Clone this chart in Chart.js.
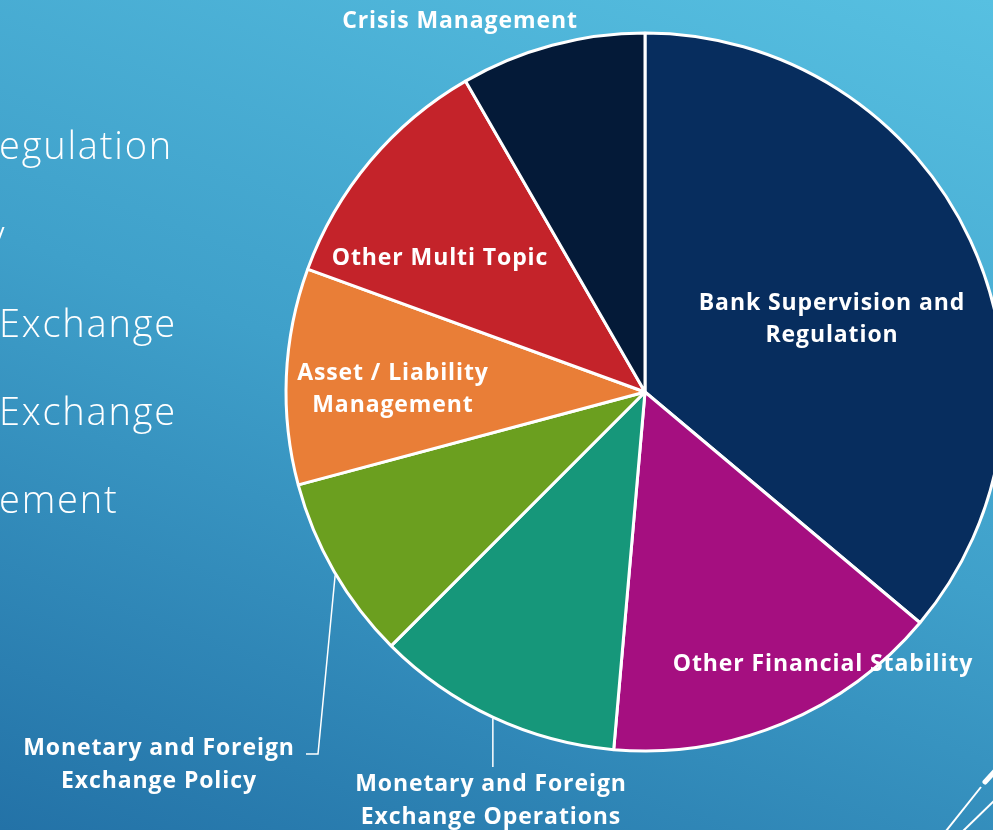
<!DOCTYPE html>
<html><head><meta charset="utf-8">
<script src="https://cdn.jsdelivr.net/npm/chart.js@4"></script>
<style>
html,body{margin:0;padding:0;width:993px;height:830px;overflow:hidden;}
body{background:linear-gradient(200deg,#57C0E1 0%,#3FA0CA 50%,#2372A7 100%);}
#wrap{position:absolute;left:0;top:0;width:993px;height:830px;}
</style></head><body>
<div id="wrap"><canvas id="c" width="993" height="830"></canvas></div>
<script>
// ---- data ----
const categories = [
  "Bank Supervision and Regulation",
  "Other Financial Stability",
  "Monetary and Foreign Exchange Operations",
  "Monetary and Foreign Exchange Policy",
  "Asset / Liability Management",
  "Other Multi Topic",
  "Crisis Management"
];
const counts = [26, 11, 8, 6, 7, 8, 6];
const sliceColors = ["#072D5E", "#A50F80", "#16977A", "#6B9F1F", "#E97E37", "#C4232A", "#041A38"];
const sideFragments = ["egulation", "y", "Exchange", "Exchange", "ement"];

// ---- layout (text placement only) ----
const labelLayout = [
  {i:0, lines:["Bank Supervision and","Regulation"], x:832, y:[303,335]},
  {i:1, lines:["Other Financial Stability"], x:823, y:[664]},
  {i:2, lines:["Monetary and Foreign","Exchange Operations"], x:491, y:[784,817], leader:{t:0.5, vertTo:767}},
  {i:3, lines:["Monetary and Foreign","Exchange Policy"], x:159, y:[748,781], leader:{t:0.48, to:[[318,754],[306,754]]}},
  {i:4, lines:["Asset / Liability","Management"], x:393, y:[373,405]},
  {i:5, lines:["Other Multi Topic"], x:440, y:[258]},
  {i:6, lines:["Crisis Management"], x:460, y:[21]}
];
const sideLayout = {baselines:[159, 248, 337, 425, 513], xs:[-1,-13,-1,-1,-1]};

const labelFont = "bold 23px 'Open Sans', sans-serif";
const labelSpacing = "0.9px";
const sideFont = "300 38px 'Open Sans', sans-serif";
const sideSpacing = "1.8px";

const labelPlugin = {
  id:'labels',
  beforeDraw(chart){
    const ctx = chart.ctx;
    ctx.save();
    ctx.fillStyle = '#fff';
    ctx.font = sideFont;
    ctx.letterSpacing = sideSpacing;
    ctx.textAlign = 'left';
    ctx.textBaseline = 'alphabetic';
    sideFragments.forEach((t,k)=>ctx.fillText(t, sideLayout.xs[k], sideLayout.baselines[k]));
    ctx.letterSpacing = "0px";
    // decorative strokes
    ctx.strokeStyle = '#fff';
    ctx.lineCap = 'round';
    ctx.lineWidth = 5;
    ctx.beginPath(); ctx.moveTo(985,782); ctx.lineTo(995,771); ctx.stroke();
    ctx.lineCap = 'butt';
    ctx.lineWidth = 2;
    ctx.beginPath(); ctx.moveTo(981,787); ctx.lineTo(946,831); ctx.stroke();
    ctx.beginPath(); ctx.moveTo(994,801); ctx.lineTo(963,831); ctx.stroke();
    ctx.restore();
  },
  afterDatasetsDraw(chart){
    const ctx = chart.ctx;
    const meta = chart.getDatasetMeta(0);
    ctx.save();
    ctx.fillStyle = '#fff';
    ctx.strokeStyle = '#fff';
    ctx.font = labelFont;
    ctx.letterSpacing = labelSpacing;
    ctx.textAlign = 'center';
    ctx.textBaseline = 'middle';
    labelLayout.forEach(l=>{
      l.lines.forEach((s,k)=>ctx.fillText(s, l.x, l.y[k]));
      if (l.leader){
        const a = meta.data[l.i];
        const p = a.getProps(['x','y','startAngle','endAngle','outerRadius'], true);
        const ang = p.startAngle + l.leader.t*(p.endAngle - p.startAngle);
        const sx = p.x + (p.outerRadius+1)*Math.cos(ang);
        const sy = p.y + (p.outerRadius+1)*Math.sin(ang);
        ctx.lineWidth = 1.5;
        ctx.beginPath();
        ctx.moveTo(sx, sy);
        if (l.leader.vertTo) ctx.lineTo(sx, l.leader.vertTo);
        else l.leader.to.forEach(pt=>ctx.lineTo(pt[0], pt[1]));
        ctx.stroke();
      }
    });
    ctx.restore();
  }
};

new Chart(document.getElementById('c'), {
  type:'pie',
  data:{labels:categories, datasets:[{data:counts, backgroundColor:sliceColors, borderColor:'#ffffff', borderWidth:3, clip:false, hoverOffset:0}]},
  options:{
    responsive:false, animation:false, events:[],
    radius:359,
    layout:{padding:{left:297,right:0,top:0,bottom:46}},
    plugins:{legend:{display:false}, tooltip:{enabled:false}, title:{display:false}}
  },
  plugins:[labelPlugin]
});
</script>
</body></html>
